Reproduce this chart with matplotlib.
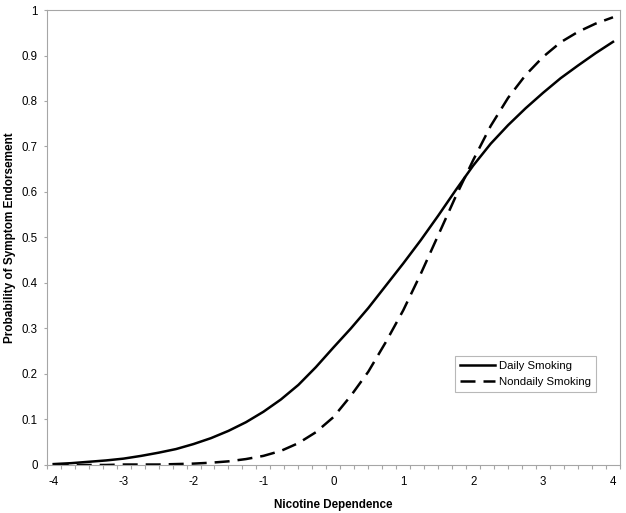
import matplotlib
matplotlib.use("Agg")
import matplotlib.pyplot as plt
import numpy as np

plt.rcParams['font.family'] = ['Liberation Sans', 'DejaVu Sans']

# values
nicotine = [-4.0, -3.75, -3.5, -3.25, -3.0, -2.75, -2.5, -2.25, -2.0, -1.75, -1.5,
            -1.25, -1.0, -0.75, -0.5, -0.25, 0.0, 0.25, 0.5, 0.75, 1.0, 1.25, 1.5,
            1.75, 2.0, 2.25, 2.5, 2.75, 3.0, 3.25, 3.5, 3.75, 4.0]
daily = [0.002, 0.004, 0.007, 0.010, 0.014, 0.020, 0.027, 0.035, 0.046, 0.059, 0.075,
         0.094, 0.117, 0.144, 0.176, 0.215, 0.258, 0.300, 0.345, 0.394, 0.443, 0.494, 0.548,
         0.604, 0.658, 0.706, 0.747, 0.784, 0.818, 0.850, 0.878, 0.905, 0.930]
nondaily = [0.000, 0.000, 0.000, 0.000, 0.001, 0.001, 0.001, 0.002, 0.003, 0.005, 0.008,
            0.013, 0.020, 0.031, 0.048, 0.072, 0.105, 0.152, 0.205, 0.270, 0.340, 0.420, 0.505,
            0.590, 0.670, 0.745, 0.807, 0.857, 0.897, 0.929, 0.952, 0.970, 0.984]

x_labels = [-4, -3, -2, -1, 0, 1, 2, 3, 4]
y_ticks = [0, 0.1, 0.2, 0.3, 0.4, 0.5, 0.6, 0.7, 0.8, 0.9, 1]
y_labels = ['0', '0.1', '0.2', '0.3', '0.4', '0.5', '0.6', '0.7', '0.8', '0.9', '1']

grey = '#a6a6a6'

fig = plt.figure(figsize=(6.26, 5.13), dpi=100)
ax = fig.add_axes([0.0746, 0.0936, 0.9158, 0.8869])

ax.plot(nicotine, daily, color='black', lw=1.8, label='Daily Smoking')
ax.plot(nicotine, nondaily, color='black', lw=1.8, dashes=(6, 3.2), label='Nondaily Smoking')

ax.set_xlim(-4.1, 4.1)
ax.set_ylim(0, 1)

ax.set_xticks(x_labels)
ax.set_xticklabels([str(v) for v in x_labels])
ax.set_xticks(np.arange(-4.1, 4.11, 0.2), minor=True)
ax.tick_params(axis='x', which='major', length=0, pad=8, labelsize=8.3)
ax.tick_params(axis='x', which='minor', length=3, width=0.8, color=grey, direction='out')

ax.set_yticks(y_ticks)
ax.set_yticklabels(y_labels)
ax.tick_params(axis='y', which='major', length=2.5, width=0.8, color=grey, pad=4, labelsize=8.3)

for s in ax.spines.values():
    s.set_color(grey)
    s.set_linewidth(0.8)

ax.set_xlabel('Nicotine Dependence', fontsize=8.4, fontweight='bold', labelpad=8)
ax.set_ylabel('Probability of Symptom Endorsement', fontsize=8.5, fontweight='bold', labelpad=4)

leg = ax.legend(loc='lower left', bbox_to_anchor=(0.712, 0.160), borderaxespad=0,
                fontsize=8.2, frameon=True, fancybox=False, edgecolor=grey,
                handlelength=3.1, handletextpad=0.3, labelspacing=0.5, borderpad=0.45)
leg.get_frame().set_linewidth(0.8)

fig.savefig('out.png', dpi=100)
